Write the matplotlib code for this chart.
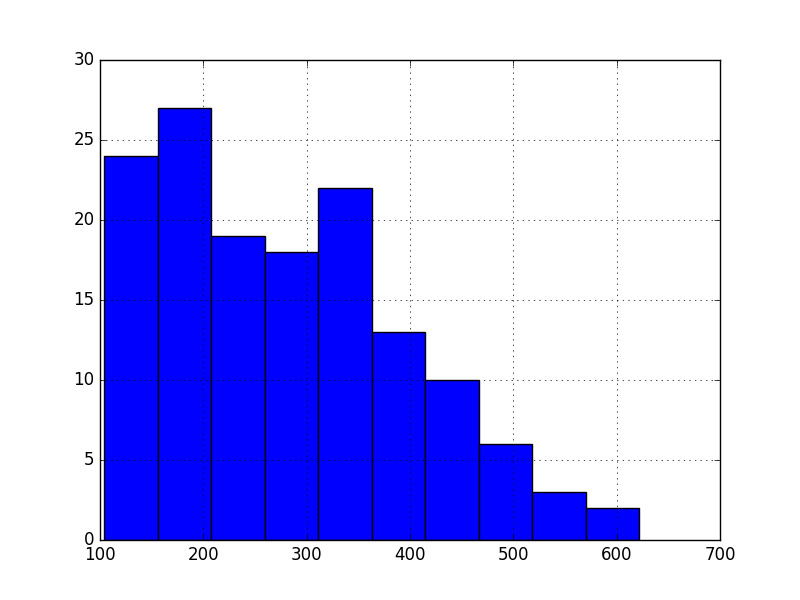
import matplotlib
matplotlib.use("Agg")
import matplotlib.pyplot as plt
import numpy as np

plt.style.use("classic")

# histogram bins
bin_lo = 104.3
bin_hi = 621.7
counts = [24, 27, 19, 18, 22, 13, 10, 6, 3, 2]

edges = np.linspace(bin_lo, bin_hi, len(counts) + 1)

fig, ax = plt.subplots(figsize=(8, 6), dpi=100)
ax.hist(edges[:-1], bins=edges, weights=counts, color="#0000ff", edgecolor="black")
ax.set_xlim(100, 700)
ax.set_ylim(0, 30)
ax.grid(True)

fig.savefig("out.png", dpi=100)
